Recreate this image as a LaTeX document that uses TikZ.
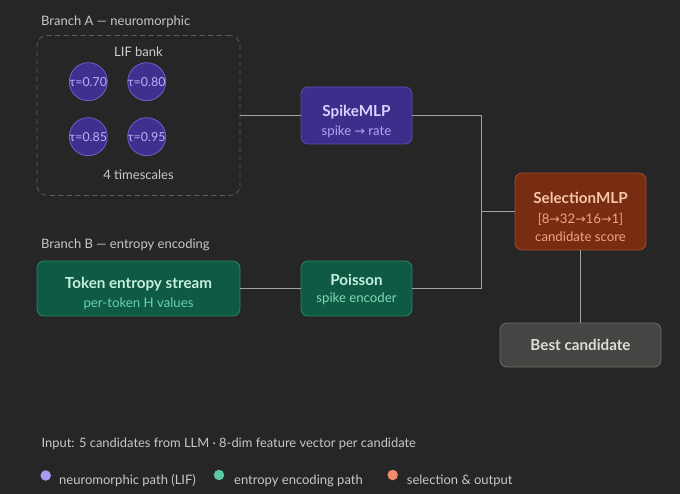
\documentclass[tikz,border=0pt]{standalone}
\usepackage{fontspec}
\setmainfont{Lato}
\newfontfamily\symf{DejaVu Sans}
\definecolor{bg}{HTML}{262626}
\definecolor{lbl}{HTML}{C8C8C4}
\definecolor{conn}{HTML}{A2A29E}
\definecolor{dash}{HTML}{5C5C5A}
\definecolor{pfill}{HTML}{3D2E8C}
\definecolor{pline}{HTML}{5A4BB5}
\definecolor{ptitle}{HTML}{DAD3FF}
\definecolor{psub}{HTML}{B2A6F2}
\definecolor{cfill}{HTML}{3F2F8F}
\definecolor{cline}{HTML}{7060C8}
\definecolor{ctext}{HTML}{BCB0FA}
\definecolor{gfill}{HTML}{0E5A44}
\definecolor{gline}{HTML}{2B8566}
\definecolor{gtitle}{HTML}{C6EFDF}
\definecolor{gsub}{HTML}{66D4AC}
\definecolor{ofill}{HTML}{782C12}
\definecolor{oline}{HTML}{A84A2A}
\definecolor{otitle}{HTML}{F7C6AA}
\definecolor{osub}{HTML}{F0A482}
\definecolor{nfill}{HTML}{454543}
\definecolor{nline}{HTML}{6B6B67}
\definecolor{ntext}{HTML}{DEDED8}
\definecolor{dotp}{HTML}{A99CF0}
\definecolor{dotg}{HTML}{5CC9A0}
\definecolor{doto}{HTML}{F08A6A}
\newcommand{\arr}{{\symf\fontsize{12.5}{14}\selectfont →}}
\begin{document}
\begin{tikzpicture}[x=1pt,y=-1pt,
  box/.style={draw, rounded corners=7pt, line width=0.8pt, inner sep=0pt},
  conn/.style={draw=conn, line width=1.1pt},
  lbltxt/.style={text=lbl, font=\fontsize{13}{15}\selectfont, inner sep=0pt, anchor=base},
  ttl/.style={font=\bfseries\fontsize{15.2}{18}\selectfont, inner sep=0pt, anchor=base},
  sub/.style={font=\fontsize{13.2}{15}\selectfont, inner sep=0pt, anchor=base},
  lif/.style={circle, draw=cline, fill=cfill, line width=0.8pt, minimum size=38pt, inner sep=0pt},
  liftxt/.style={text=ctext, font=\fontsize{12.4}{14}\selectfont, inner sep=0pt, anchor=base},
  ldot/.style={circle, inner sep=0pt, minimum size=10.5pt}
]
\fill[bg] (0,0) rectangle (680,494);
\useasboundingbox (0,0) rectangle (680,494);

% Branch A
\node[lbltxt, anchor=base west] (brA) at (41,26) {Branch A — neuromorphic};
\node[draw=dash, dash pattern=on 5pt off 3.5pt, line width=0.8pt, rounded corners=10pt, minimum width=203pt, minimum height=160pt, inner sep=0pt] (lifbox) at (138.5,115.5) {};
\node[lbltxt, text=lbl!90!white] (lifbank) at (138.5,56.7) {LIF bank};
\node[lif] (c1) at (88.3,81.7) {};
\node[lif] (c2) at (146.7,81.7) {};
\node[lif] (c3) at (88.3,136.7) {};
\node[lif] (c4) at (146.7,136.7) {};
\node[liftxt] (t1) at (88.3,86.3) {τ=0.70};
\node[liftxt] (t2) at (146.7,86.3) {τ=0.80};
\node[liftxt] (t3) at (88.3,141.3) {τ=0.85};
\node[liftxt] (t4) at (146.7,141.3) {τ=0.95};
\node[lbltxt] (ts) at (138.5,180) {4 timescales};

% SpikeMLP
\node[box, draw=pline, fill=pfill, minimum width=111pt, minimum height=57pt] (spike) at (356.5,115.5) {};
\node[ttl, text=ptitle] (spiket) at (356.5,117) {SpikeMLP};
\node[sub, text=psub] (spikes) at (356.5,136) {spike \arr\ rate};

% Branch B
\node[lbltxt, anchor=base west] (brB) at (41,249) {Branch B — entropy encoding};
\node[box, draw=gline, fill=gfill, minimum width=203pt, minimum height=55pt] (tok) at (138.5,288.5) {};
\node[ttl, text=gtitle] (tokt) at (138.5,289) {Token entropy stream};
\node[sub, text=gsub] (toks) at (138.5,307.5) {per-token H values};

\node[box, draw=gline, fill=gfill, minimum width=111pt, minimum height=55pt] (poi) at (356.5,288.5) {};
\node[ttl, text=gtitle] (poit) at (356.5,286) {Poisson};
\node[sub, text=gsub!85!white] (pois) at (356.5,302.5) {spike encoder};

% Selection
\node[box, draw=oline, fill=ofill, minimum width=131pt, minimum height=77pt] (sel) at (580.5,211.5) {};
\node[ttl, text=otitle] (selt) at (580.5,204) {SelectionMLP};
\node[sub, text=osub] (sels) at (580.5,224) {[8\arr32\arr16\arr1]};
\node[sub, text=osub] (selc) at (580.5,241.5) {candidate score};

% Best
\node[box, draw=nline, fill=nfill, minimum width=161pt, minimum height=44pt] (best) at (580.5,345) {};
\node[ttl, text=ntext] (bestt) at (580.5,350.3) {Best candidate};

% connectors
\coordinate (jx) at (481.5,211.5);
\draw[conn] (lifbox.east) -- (spike.west);
\draw[conn] (spike.east) -| (jx);
\draw[conn] (poi.east) -| (jx);
\draw[conn] (jx) -- (sel.west);
\draw[conn] (tok.east) -- (poi.west);
\draw[conn] (sel.south) -- (best.north);

% footer
\node[lbltxt, anchor=base west, font=\fontsize{12.9}{15}\selectfont] (inp) at (41.5,447.3) {Input: 5 candidates from LLM · 8-dim feature vector per candidate};
\node[ldot, fill=dotp] (d1) at (45.7,475.5) {};
\node[lbltxt, anchor=base west, font=\fontsize{13}{16}\selectfont] (l1) at (59,484) {neuromorphic path (LIF)};
\node[ldot, fill=dotg] (d2) at (219,475) {};
\node[lbltxt, anchor=base west, font=\fontsize{13}{16}\selectfont] (l2) at (234,484) {entropy encoding path};
\node[ldot, fill=doto] (d3) at (392.7,475) {};
\node[lbltxt, anchor=base west, font=\fontsize{13}{16}\selectfont] (l3) at (406.7,484) {selection \& output};
\end{tikzpicture}
\end{document}
